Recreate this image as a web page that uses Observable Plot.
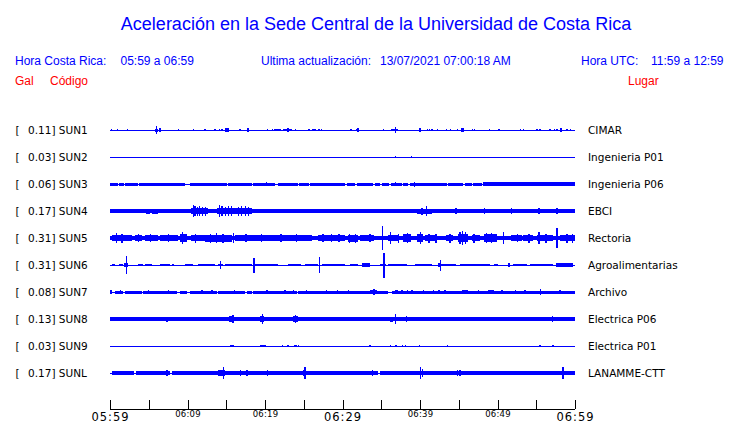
<!DOCTYPE html>
<html><head><meta charset="utf-8">
<script src="https://cdn.jsdelivr.net/npm/d3@7"></script>
<script src="https://cdn.jsdelivr.net/npm/@observablehq/plot@0.6"></script>
<style>
html,body{margin:0;padding:0;background:#fff;overflow:hidden;}
#wrap{position:relative;width:740px;height:423px;overflow:hidden;background:#fff;}
#head{position:relative;width:740px;height:100px;font-family:"Liberation Sans",Arial,Helvetica,sans-serif;}
#head span{position:absolute;white-space:pre;line-height:1;}
#chart svg{display:block;}
</style></head>
<body><div id="wrap"><div id="head"></div><div id="chart"></div></div>
<script>
// ---------- data ----------
const title = "Aceleración en la Sede Central de la Universidad de Costa Rica";
const localLabel = "Hora Costa Rica:";
const localRange = "05:59 a 06:59";
const updateLabel = "Ultima actualización:";
const updateValue = "13/07/2021 07:00:18 AM";
const utcLabel = "Hora UTC:";
const utcRange = "11:59 a 12:59";
const colHeads = ["Gal", "Código", "Lugar"];

const stations = ["SUN1","SUN2","SUN3","SUN4","SUN5","SUN6","SUN7","SUN8","SUN9","SUNL"];
const gal = [0.11, 0.03, 0.06, 0.17, 0.31, 0.31, 0.08, 0.13, 0.03, 0.17];
const places = ["CIMAR","Ingenieria P01","Ingenieria P06","EBCI","Rectoria","Agroalimentarias","Archivo","Electrica P06","Electrica P01","LANAMME-CTT"];
// steady background amplitude of each trace
const baseAmp = [0.5, 0.5, 0.5, 1.7, 2.3, 0.5, 0.5, 2, 0.5, 0.5];

// trace activity: [start minute, end minute, half amplitude]; start == end is a single spike
const sun1 = [[0.13,0.13,1.3],[0.94,0.94,0.7],[2.2,2.2,1.3],[5.85,6.2,1.5],[5.98,5.98,4.3],[6.37,6.37,1.7],[8.8,8.8,1.3],[10.75,10.75,1.3],[12.2,12.2,0.7],[13.5,13.5,0.7],[14.0,14.2,1.3],[14.4,14.4,0.7],[14.8,15.35,1.7],[15.27,15.27,2.3],[16.7,16.7,1.3],[17.7,17.9,1.7],[20.3,20.3,0.7],[20.9,20.9,1.3],[21.1,22.0,1.3],[22.3,23.5,1.3],[22.9,22.9,1.7],[23.9,23.9,0.7],[25.6,25.6,1.3],[26.1,26.6,1.3],[26.9,26.9,1.3],[27.2,27.2,1.3],
  [31.05,31.05,1.3],[31.7,32.0,1.3],[31.95,31.95,2.3],[35.2,35.2,1.3],[36.3,37.2,1.3],[36.8,36.8,2.7],[39.9,40.1,1.7],[40.9,40.9,0.7],[41.2,41.2,1.3],[41.5,41.5,1.3],[42.2,42.2,1.3],[43.35,43.5,1.3],[43.9,43.9,1.3],[44.8,44.8,1.3],[45.3,45.7,1.7],[45.5,45.5,2.3],[46.75,46.75,1.3],[47.0,47.0,1.3],[48.9,48.9,0.7],[50.1,50.3,1.3],[52.9,52.9,1.3],[53.3,53.3,1.3],[55.05,55.05,1],[55.4,55.4,1],[56.6,56.9,1.3],[57.3,57.3,1.3],[57.6,57.6,1.3],[58.1,58.3,1.7],[58.9,58.9,1.3],[59.35,59.35,1.3]];
const sun2 = [[36.8,36.8,1.3],[38.8,39.0,1.3]];
const sun3 = [[0,0.99,1.5],[1.16,1.77,1.5],[1.94,3.65,1.5],[3.78,9.68,1.5],[10.32,15.06,1.5],[15.26,18.28,1.5],[18.49,21.29,1.5],[21.64,24.22,1.5],[24.39,25.68,1.5],[25.85,30.32,1.5],[30.54,31.61,1.5],[31.83,33.97,1.5],[34.19,34.84,1.5],[35.06,36.04,1.5],[36.22,37.64,1.5],[37.85,38.49,1.5],[38.71,43.45,1.5],[43.65,45.59,1.5],[45.81,46.67,1.5],[46.88,47.96,1.5],[48.17,60,1.8],
  [20.1,20.1,2.2],[36.8,36.8,2.2],[39.2,39.2,2.5]];
const sun4 = [[0.65,1.29,2],[3.0,3.6,2.3],[4.6,5.2,2.5],[5.4,6.2,2.5],[7.3,7.5,2],[8.4,8.6,2],[10.5,12.7,3.3],[10.7,10.7,6],[10.9,10.9,5],[11.2,11.2,4.5],[11.5,11.5,5],[11.9,11.9,4.5],[12.3,12.3,4.5],[12.7,13.5,2],[13.8,16.1,3.3],[14.06,14.06,6],[14.4,14.4,5],[14.8,14.8,4.5],[15.2,15.2,5],[15.6,15.6,5],[16.1,18.3,3.2],[16.5,16.5,4.5],[16.9,16.9,5],[17.4,17.4,5.3],[17.8,17.8,4.5],[19.35,19.35,2.2],[24.7,24.7,2.2],[27.8,28.1,2],[28.8,29.0,2],[30.97,31.4,2],[33.98,34.8,2],[36.8,38.3,2],[39.6,41.5,2.5],[40.8,40.8,5],[40.2,40.2,3.5],[43.0,43.4,2],[44.5,44.8,3],[45.8,46.2,2],[48.3,48.3,2.7],[51.7,51.7,3],[53.1,53.1,2],[53.85,53.85,2],[55.3,55.3,2.7],[57.6,57.6,2.7],[59.8,59.8,2]];
const sun5 = [[0.2,2.8,3.2],[0.73,0.73,5],[1.5,1.5,4.5],[3.2,4.1,3],[3.6,3.6,4],[4.5,6.2,2.7],[5.2,5.2,4],[6.45,8.8,2.7],[7.5,7.5,3.8],[9.0,9.9,3.7],[9.25,9.25,6],[10.5,12.3,3],[11.0,11.0,4.5],[12.3,15.7,3.5],[12.9,12.9,4.5],[13.7,13.7,5],[14.5,14.5,4.5],[15.9,15.9,5.3],[16.1,20.9,2.7],[17.5,17.5,4],[19.5,19.5,3.8],[20.9,26.0,2.7],[22.0,22.0,4],[24.0,24.0,3.8],[26.9,30.3,2.8],[27.4,27.4,4],[28.5,28.5,4],[29.5,29.5,3.8],
  [30.75,32.0,3.5],[30.8,30.8,4.5],[31.6,31.6,4.5],[32.3,34.0,3],[33.5,33.5,4],[35.1,35.1,12.3],[35.9,37.2,3.3],[36.1,36.1,6],[37.2,37.2,4.5],[37.85,38.9,4],[38.3,38.3,5],[39.6,40.4,4],[40.0,40.0,6],[40.6,42.2,3],[41.1,41.1,4.5],[42.0,42.0,4.5],[43.4,44.3,3.3],[43.8,43.8,4.5],[44.9,46.2,4.3],[45.1,45.1,6],[45.4,45.4,7.3],[45.8,45.8,6],[46.7,47.7,3.3],[46.9,46.9,4.5],[48.2,49.9,3.6],[48.5,48.5,5],[49.2,49.2,5],[50.75,50.75,6],[51.8,53.1,2.7],[52.5,52.5,4],[53.3,54.6,3.2],[54.0,54.0,4.5],[55.05,57.2,3.2],[55.3,55.3,6],[56.2,56.2,4.5],[57.6,57.6,10],[58.1,60,3],[58.9,58.9,4.5],[59.6,59.6,4.5]];
const sun6 = [[0.2,0.65,0.8],[1.1,1.7,1],[1.85,2.35,1.7],[2.06,2.06,9],[3.65,4.3,1],[4.5,5.4,1.3],[6.45,7.7,1.3],[7.96,8.2,1.3],[9.7,10.75,1],[11.4,13.5,1.1],[13.9,14.6,1.3],[14.2,14.2,4.3],[14.8,18.3,1.1],[18.5,18.5,7.5],[18.7,21.7,1.1],[23.0,24.7,1.3],[25.2,26.9,1.3],[27.0,27.0,8],[27.3,30.3,1.3],[31.0,32.0,1.3],[32.5,33.5,1.7],[34.9,35.6,1.3],[35.3,35.3,12.5],[35.9,38.3,1.1],[39.35,41.5,1.3],[42.3,42.7,1.7],[42.6,42.6,5.5],[42.7,44.7,1.1],[45.2,49.0,1.1],[49.6,50.0,1.3],[51.4,51.4,2],[52.0,53.8,1.1],[54.2,57.2,1.3],[57.6,59.8,1.7]];
const sun7 = [[0,0.22,1.8],[0.65,1.72,1.5],[1.94,4.09,1.5],[4.3,8.6,1.5],[9.03,9.9,1.5],[10.32,13.77,1.5],[13.98,17.42,1.5],[17.64,18.28,1.5],[18.5,24.1,1.5],[24.3,30.3,1.5],[30.3,35.9,1.5],[36.35,60,1.5],
  [1.3,1.3,1.7],[4.9,4.9,2],[7.5,7.5,2],[11.8,11.8,2],[13.1,13.1,2.3],[16.0,16.0,2],[20.2,20.2,2],[22.5,22.5,2],[23.6,23.6,2],[25.3,25.3,2],[27.9,27.9,1.7],[29.25,29.25,1.7],[30.75,30.75,1.7],[33.5,34.4,2.3],[34.0,34.0,3.3],[36.8,37.1,1.8],[37.6,37.6,2],[38.3,38.3,2],[38.9,38.9,2],[40.4,40.4,1.7],[41.7,41.7,1.7],[42.4,42.4,1.7],[43.1,43.35,2.3],[45.4,46.2,2],[47.5,47.5,1.7],[48.8,49.5,2],[50.5,50.5,1.7],[52.3,52.3,2.3],[53.5,53.5,2.3],[55.5,55.5,2.7],[58.0,58.0,1.7],[59.4,60,1.5]];
const sun8 = [[3.4,3.4,2.3],[4.9,4.9,2.3],[7.3,7.3,2.5],[8.5,8.5,2.2],[9.3,9.3,2.2],[14.7,14.7,2.2],[15.35,15.9,2.7],[15.8,15.8,4],[17.4,17.4,2.3],[19.35,19.9,3],[19.6,19.6,4.7],[23.65,24.3,2.7],[23.9,23.9,4],[26.2,26.2,2.3],[31.2,31.2,2.3],[36.1,36.55,2.5],[36.8,36.8,5.3],[37.5,37.5,2.3],[38.2,38.2,2.7],[38.7,38.7,2.2],[39.7,39.7,2.3],[40.3,40.3,2.3],[40.7,40.7,2.3],[42.15,42.15,2.3],[43.1,43.1,2.3],[43.5,43.5,2.3],[47.1,47.1,2.2],[49.1,49.1,2.3],[50.2,50.2,2.2],[51.2,51.2,2.2],[53.5,53.5,2.3],[55.4,55.4,2.3],[56.4,56.4,2.3],[57.0,57.0,2.7],[58.8,58.8,2.3],[59.6,59.6,2.2]];
const sun9 = [[15.5,16.0,1.3],[19.3,19.9,1.3],[19.9,20.1,1],[22.2,22.2,1.3],[22.9,22.9,1.3],[23.8,24.1,1.3],[24.3,24.3,1],[33.5,33.5,0.9],[36.1,36.1,1.3],[36.8,37.0,1.3],[37.7,37.7,1],[38.1,38.1,1],[39.9,39.9,1],[43.5,43.5,1],[55.4,55.4,1],[57.1,57.1,1]];
const sunL = [[0.25,3.1,1.7],[3.4,7.7,1.7],[7.96,34.6,1.7],[34.8,60,1.7],
  [7.3,7.3,2.7],[11.8,11.8,1.8],[13.97,14.9,3],[14.6,14.6,6.3],[16.8,16.8,2.7],[17.6,17.6,3.3],[18.9,18.9,2.3],[20.3,20.3,2.7],[24.9,25.25,3.3],[25.1,25.1,5.7],[27.5,27.5,2],[33.8,33.8,2.7],[36.8,36.8,2.3],[37.85,37.85,2.3],[40.0,40.0,6.3],[40.3,40.3,4],[42.9,42.9,2],[44.8,44.8,2.7],[45.1,45.1,2.7],[50.2,50.2,1.8],[54.4,54.4,2.3],[58.4,58.4,6.3]];
const traces = [sun1, sun2, sun3, sun4, sun5, sun6, sun7, sun8, sun9, sunL];

// time axis: minutes after 05:59 local time
const tickMinutes = [0,5,10,15,20,25,30,35,40,45,50,55,60];
const labelMinutes = [0,10,20,30,40,50,60];
const tickLabels = ["05:59","06:09","06:19","06:29","06:39","06:49","06:59"];
const bigLabels = [true,false,false,true,false,false,true];

// ---------- header ----------
const head = document.getElementById("head");
function addSpan(text, left, top, size, color, center) {
  const s = document.createElement("span");
  s.textContent = text;
  s.style.left = left + "px"; s.style.top = top + "px";
  s.style.fontSize = size + "px"; s.style.color = color;
  if (center) s.style.transform = "translateX(-50%)";
  head.appendChild(s);
}
addSpan(title, 376, 14.5, 18, "#0000ff", true);
addSpan(localLabel, 15, 55.3, 12, "#0000ff");
addSpan(localRange, 120.5, 55.3, 12, "#0000ff");
addSpan(updateLabel, 261, 55.3, 12, "#0000ff");
addSpan(updateValue, 380, 55.3, 12, "#0000ff");
addSpan(utcLabel, 581, 55.3, 12, "#0000ff");
addSpan(utcRange, 651, 55.3, 12, "#0000ff");
addSpan(colHeads[0], 15, 75, 12, "#ff0000");
addSpan(colHeads[1], 50, 75, 12, "#ff0000");
addSpan(colHeads[2], 628, 75, 12, "#ff0000");

// ---------- chart ----------
const ROW = 27;           // y units between traces
const Y_TOP = -30, Y_AXIS = 279;
const t0 = new Date(2021, 6, 13, 5, 59);
const atMin = m => new Date(t0.getTime() + m * 60000);
const tEnd = atMin(60);

const rows = stations.map((code, i) => ({code, gal: gal[i], place: places[i], base: baseAmp[i], row: i * ROW}));
const bursts = [], spikes = [];
traces.forEach((list, i) => list.forEach(([a, b, amp]) => {
  const d = {row: i * ROW, t1: atMin(a), t2: atMin(b), amp};
  (a === b ? spikes : bursts).push(d);
}));
const ticks = tickMinutes.map(atMin);
const labels = labelMinutes.map((m, i) => ({t: atMin(m), text: tickLabels[i], big: bigLabels[i]}));

const svg = Plot.plot({
  width: 740, height: 323,
  marginLeft: 110, marginRight: 165, marginTop: 0, marginBottom: 14,
  x: {type: "time", domain: [t0, tEnd], axis: null},
  y: {domain: [Y_TOP, Y_AXIS], reverse: true, axis: null},
  style: {background: "white", fontFamily: "DejaVu Sans", fontSize: "10.5px", overflow: "visible"},
  marks: [
    Plot.rect(rows, {x1: () => t0, x2: () => tEnd, y1: d => d.row - d.base, y2: d => d.row + d.base, fill: "#0000ff", shapeRendering: "crispEdges"}),
    Plot.rect(bursts, {x1: "t1", x2: "t2", y1: d => d.row - d.amp, y2: d => d.row + d.amp, fill: "#0000ff", shapeRendering: "crispEdges"}),
    Plot.ruleX(spikes, {x: "t1", y1: d => d.row - d.amp, y2: d => d.row + d.amp, stroke: "#0000ff", strokeWidth: 1.3, shapeRendering: "crispEdges"}),
    Plot.text(rows, {frameAnchor: "left", y: "row", text: () => "[", dx: -95, textAnchor: "start", fill: "black"}),
    Plot.text(rows, {frameAnchor: "left", y: "row", text: d => `${d.gal.toFixed(2)}] ${d.code}`, dx: -82.5, textAnchor: "start", fill: "black"}),
    Plot.text(rows, {frameAnchor: "right", y: "row", text: "place", dx: 12.5, textAnchor: "start", fill: "black"}),
    Plot.ruleY([Y_AXIS], {stroke: "black", strokeWidth: 1, shapeRendering: "crispEdges"}),
    Plot.ruleX(ticks, {x: d => d, y1: Y_AXIS, y2: Y_AXIS - 8.6, stroke: "black", strokeWidth: 1, shapeRendering: "crispEdges"}),
    Plot.text(labels.filter(d => d.big), {x: "t", y: Y_AXIS, dy: 7.5, text: "text", fontSize: 11.5, fill: "black"}),
    Plot.text(labels.filter(d => !d.big), {x: "t", y: Y_AXIS, dy: 5, text: "text", fontSize: 8.5, fill: "black"})
  ]
});
d3.select(svg).selectAll("text").filter(function(){ return /^\d\d:\d\d$/.test(this.textContent); })
  .attr("letter-spacing", function(){ return +d3.select(this.parentNode).attr("font-size") > 10 ? "1px" : "0.2px"; });
document.getElementById("chart").appendChild(svg);
</script>
</body></html>
